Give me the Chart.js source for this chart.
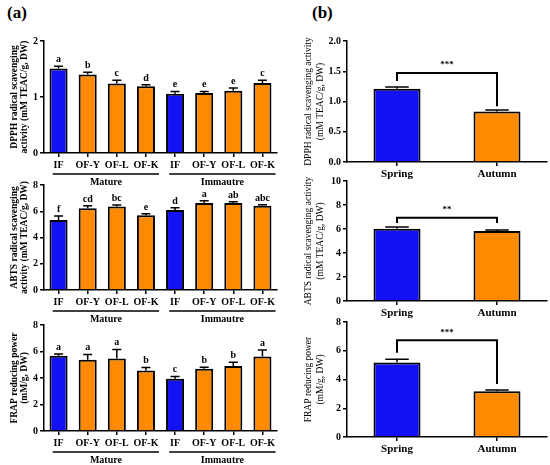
<!DOCTYPE html>
<html>
<head>
<meta charset="utf-8">
<script src="https://cdn.jsdelivr.net/npm/chart.js@4"></script>
<style>
  body { margin: 0; background: #fff; width: 550px; height: 465px; position: relative; overflow: hidden; }
  canvas { position: absolute; }
  .tag { position: absolute; font: bold 17px "Liberation Serif", serif; }
</style>
</head>
<body>
<div class="tag" style="left:7px;top:3px">(a)</div>
<div class="tag" style="left:312px;top:3px">(b)</div>
<canvas id="a1"></canvas>
<canvas id="a2"></canvas>
<canvas id="a3"></canvas>
<canvas id="b1"></canvas>
<canvas id="b2"></canvas>
<canvas id="b3"></canvas>
<script>
// categories
const treatments = ["IF", "OF-Y", "OF-L", "OF-K", "IF", "OF-Y", "OF-L", "OF-K"];
const groupNames = ["Mature", "Immautre"];
const seasons = ["Spring", "Autumn"];

// (a) values, errors and letters
const dpphA = [1.51, 1.40, 1.24, 1.19, 1.06, 1.07, 1.11, 1.25];
const dpphAErr = [0.04, 0.04, 0.06, 0.03, 0.04, 0.03, 0.05, 0.05];
const dpphALetters = ["a", "b", "c", "d", "e", "e", "e", "c"];

const abtsA = [5.33, 6.22, 6.37, 5.69, 6.09, 6.62, 6.62, 6.42];
const abtsAErr = [0.30, 0.20, 0.10, 0.12, 0.18, 0.18, 0.11, 0.08];
const abtsALetters = ["f", "cd", "bc", "e", "d", "a", "ab", "abc"];

const frapA = [5.68, 5.38, 5.48, 4.57, 3.94, 4.70, 4.90, 5.63];
const frapAErr = [0.13, 0.40, 0.68, 0.23, 0.18, 0.12, 0.28, 0.48];
const frapALetters = ["a", "a", "a", "b", "c", "b", "b", "a"];

// (b) values and errors
const dpphB = [1.21, 0.835];
const dpphBErr = [0.03, 0.025];
const abtsB = [6.03, 5.83];
const abtsBErr = [0.14, 0.09];
const frapB = [5.18, 3.18];
const frapBErr = [0.23, 0.09];

// significance brackets: [top, left leg end, right leg end]
const dpphSig = [1.47, 1.34, 0.92];
const abtsSig = [6.94, 6.5, 6.5];
const frapSig = [6.73, 5.86, 3.69];

const BLUE = "#1212f5";
const ORANGE = "#ff8a00";
const SERIF = '"Liberation Serif", "Times New Roman", serif';

const annot = {
    id: "annot",
    afterDatasetsDraw(chart, args, o) {
        const ctx = chart.ctx;
        const ys = chart.scales.y;
        const xs = chart.scales.x;
        const vals = chart.data.datasets[0].data;
        const meta = chart.getDatasetMeta(0);
        ctx.save();
        ctx.strokeStyle = "#000";
        ctx.fillStyle = "#000";
        ctx.lineWidth = 1.5;
        ctx.textAlign = "center";

        meta.data.forEach((bar, i) => {
            const top = ys.getPixelForValue(vals[i] + o.err[i]);
            const half = bar.width / 4;
            ctx.beginPath();
            ctx.moveTo(bar.x, bar.y);
            ctx.lineTo(bar.x, top);
            ctx.moveTo(bar.x - half, top);
            ctx.lineTo(bar.x + half, top);
            ctx.stroke();
            if (o.letters) {
                ctx.font = "bold 10px " + SERIF;
                ctx.textBaseline = "alphabetic";
                ctx.fillText(o.letters[i], bar.x, top - 4);
            }
        });

        // group underline + name below the x labels
        if (o.groups) {
            const step = xs.getPixelForValue(1) - xs.getPixelForValue(0);
            const yLine = chart.chartArea.bottom + 21;
            o.groups.forEach((name, g) => {
                const x0 = xs.getPixelForValue(g * 4) - 0.2 * step;
                const x1 = xs.getPixelForValue(g * 4 + 3) + 0.45 * step;
                ctx.beginPath();
                ctx.moveTo(x0, yLine);
                ctx.lineTo(x1, yLine);
                ctx.stroke();
                ctx.font = "bold 10px " + SERIF;
                ctx.textBaseline = "middle";
                ctx.fillText(name, (x0 + x1) / 2, yLine + 8);
            });
        }

        // significance bracket
        if (o.sig) {
            const x0 = xs.getPixelForValue(0);
            const x1 = xs.getPixelForValue(1);
            const yTop = ys.getPixelForValue(o.sig[0]);
            ctx.lineWidth = 2;
            ctx.beginPath();
            ctx.moveTo(x0, ys.getPixelForValue(o.sig[1]));
            ctx.lineTo(x0, yTop);
            ctx.lineTo(x1, yTop);
            ctx.lineTo(x1, ys.getPixelForValue(o.sig[2]));
            ctx.stroke();
            ctx.font = "bold 9px " + SERIF;
            ctx.textBaseline = "middle";
            ctx.fillText(o.stars, (x0 + x1) / 2, yTop - 8);
        }

        // rotated y-axis title, two lines
        if (o.title) {
            const cy = (chart.chartArea.top + chart.chartArea.bottom) / 2;
            ctx.font = (o.titleBold ? "bold " : "") + "9.5px " + SERIF;
            ctx.textBaseline = "middle";
            o.title.forEach((line, k) => {
                ctx.save();
                ctx.translate(o.titleX[k], cy);
                ctx.rotate(-Math.PI / 2);
                ctx.fillText(line, 0, 0);
                ctx.restore();
            });
        }
        ctx.restore();
    }
};

function makeChart(id, box, area, labels, values, colors, yOpts, extra, barPct) {
    const cv = document.getElementById(id);
    cv.width = box.w;
    cv.height = box.h;
    cv.style.left = box.x + "px";
    cv.style.top = box.y + "px";
    extra.title = yOpts.title;

    new Chart(cv, {
        type: "bar",
        data: {
            labels: labels,
            datasets: [{
                data: values,
                backgroundColor: colors,
                borderColor: "#000",
                borderWidth: 2,
                borderSkipped: "bottom",
                barPercentage: barPct,
                categoryPercentage: 1
            }]
        },
        options: {
            responsive: false,
            animation: false,
            layout: {
                padding: {
                    left: 0,
                    top: area.t - box.y,
                    right: box.x + box.w - area.r,
                    bottom: 0
                }
            },
            plugins: {
                legend: { display: false },
                tooltip: { enabled: false },
                annot: extra
            },
            scales: {
                x: {
                    afterFit(s) { s.height = box.y + box.h - area.b; },
                    border: { color: "#000", width: 1.5 },
                    grid: { drawOnChartArea: false, offset: false, color: "#000", lineWidth: 1.5, tickLength: 4 },
                    ticks: { color: "#000", font: { family: SERIF, weight: "bold", size: barPct > 0.55 ? 10 : 11 }, padding: 2, maxRotation: 0, autoSkip: false }
                },
                y: {
                    min: yOpts.min,
                    max: yOpts.max,
                    afterFit(s) { s.width = area.l - box.x; },
                    border: { color: "#000", width: 1.5 },
                    grid: { drawOnChartArea: false, color: "#000", lineWidth: 1.5, tickLength: 4 },
                    ticks: {
                        stepSize: yOpts.step,
                        color: "#000",
                        padding: 2,
                        font: { family: SERIF, weight: "bold", size: 10 },
                        callback: yOpts.fmt
                    }
                }
            }
        },
        plugins: [annot]
    });
}

const aColors = treatments.map((t, i) => (i % 4 === 0 ? BLUE : ORANGE));
const bColors = [BLUE, ORANGE];
const intFmt = v => v;
const decFmt = v => Number(v).toFixed(1);

// (a) panels
makeChart("a1", { x: 0, y: 28, w: 280, h: 162 }, { l: 44, r: 277, t: 41, b: 153 },
    treatments, dpphA, aColors,
    { min: 0, max: 2, step: 1, fmt: intFmt, title: ["DPPH radical scavenging", "activity (mM TEAC/g, DW)"] },
    { err: dpphAErr, letters: dpphALetters, groups: groupNames, titleX: [15, 25], titleBold: true }, 0.62);

makeChart("a2", { x: 0, y: 172, w: 280, h: 156 }, { l: 44, r: 277, t: 185, b: 290 },
    treatments, abtsA, aColors,
    { min: 0, max: 8, step: 2, fmt: intFmt, title: ["ABTS radical scavenging", "activity (mM TEAC/g, DW)"] },
    { err: abtsAErr, letters: abtsALetters, groups: groupNames, titleX: [15, 25], titleBold: true }, 0.62);

makeChart("a3", { x: 0, y: 312, w: 280, h: 153 }, { l: 44, r: 277, t: 325, b: 431 },
    treatments, frapA, aColors,
    { min: 0, max: 8, step: 2, fmt: intFmt, title: ["FRAP reducing power", "(mM/g, DW)"] },
    { err: frapAErr, letters: frapALetters, groups: groupNames, titleX: [15, 25], titleBold: true }, 0.62);

// (b) panels
makeChart("b1", { x: 300, y: 28, w: 250, h: 157 }, { l: 347, r: 547, t: 41, b: 162 },
    seasons, dpphB, bColors,
    { min: 0, max: 2, step: 0.5, fmt: decFmt, title: ["DPPH radical scavenging activity", "(mM TEAC/g, DW)"] },
    { err: dpphBErr, sig: dpphSig, stars: "***", titleX: [8, 20], titleBold: false }, 0.47);

makeChart("b2", { x: 300, y: 170, w: 250, h: 150 }, { l: 347, r: 547, t: 181, b: 301 },
    seasons, abtsB, bColors,
    { min: 0, max: 10, step: 2, fmt: intFmt, title: ["ABTS radical scavenging activity", "(mM TEAC/g, DW)"] },
    { err: abtsBErr, sig: abtsSig, stars: "**", titleX: [8, 20], titleBold: false }, 0.47);

makeChart("b3", { x: 300, y: 310, w: 250, h: 155 }, { l: 347, r: 547, t: 322, b: 437 },
    seasons, frapB, bColors,
    { min: 0, max: 8, step: 2, fmt: intFmt, title: ["FRAP reducing power", "(mM/g, DW)"] },
    { err: frapBErr, sig: frapSig, stars: "***", titleX: [8, 20], titleBold: false }, 0.47);
</script>
</body>
</html>
